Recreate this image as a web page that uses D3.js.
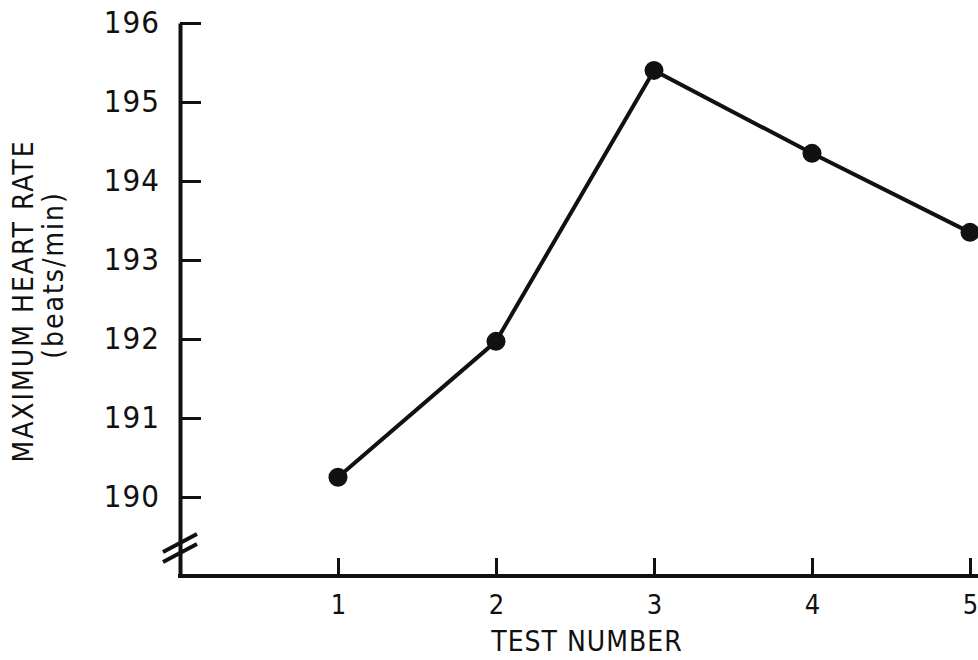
<!DOCTYPE html>
<html>
<head>
<meta charset="utf-8">
<script src="https://cdn.jsdelivr.net/npm/d3@7"></script>
<style>
  body { margin: 0; background: #fff; }
  svg { display: block; }
  text { font-family: "Liberation Sans Narrow", "DejaVu Sans Condensed", sans-serif; fill: #111; }
</style>
</head>
<body>
<svg width="978" height="660"></svg>
<script>
var testNumbers = [1, 2, 3, 4, 5];
var heartRates = [190.25, 191.97, 195.4, 194.35, 193.35];
var yTicks = [190, 191, 192, 193, 194, 195, 196];

var svg = d3.select('svg');
var width = 978;

var x = d3.scaleLinear().domain([0, 5]).range([180, 970]);
var y = d3.scaleLinear().domain([189, 196]).range([576, 23]);

// y axis, ticks pointing into the plot
var yAxis = d3.axisLeft(y)
  .tickValues(yTicks)
  .tickFormat(d3.format('d'))
  .tickSizeInner(-21)
  .tickSizeOuter(0)
  .tickPadding(20);

var gy = svg.append('g')
  .attr('transform', 'translate(' + x(0) + ',0)')
  .call(yAxis);
gy.select('.domain').attr('stroke', '#111').attr('stroke-width', 4);
gy.selectAll('.tick line').attr('stroke', '#111').attr('stroke-width', 3);
gy.selectAll('.tick text')
  .attr('font-size', 31)
  .attr('letter-spacing', 1)
  .style('font-family', null);

// x axis, ticks pointing up
var xAxis = d3.axisBottom(x)
  .tickValues(testNumbers)
  .tickFormat(d3.format('d'))
  .tickSizeInner(-18)
  .tickSizeOuter(0)
  .tickPadding(19);

var gx = svg.append('g')
  .attr('transform', 'translate(0,' + y(189) + ')')
  .call(xAxis);
gx.select('.domain').remove();
gx.append('line')
  .attr('x1', x(0) - 2)
  .attr('x2', width)
  .attr('stroke', '#111')
  .attr('stroke-width', 4);
gx.selectAll('.tick line').attr('stroke', '#111').attr('stroke-width', 3);
gx.selectAll('.tick text')
  .attr('font-size', 27)
  .style('font-family', null);

// axis break marks
[543, 553].forEach(function (cy) {
  svg.append('line')
    .attr('x1', x(0) - 17)
    .attr('y1', cy + 9)
    .attr('x2', x(0) + 17)
    .attr('y2', cy - 9)
    .attr('stroke', '#111')
    .attr('stroke-width', 4);
});

// data line and points
var points = testNumbers.map(function (t, i) { return [x(t), y(heartRates[i])]; });
var lineGenerator = d3.line();

svg.append('path')
  .attr('d', lineGenerator(points))
  .attr('fill', 'none')
  .attr('stroke', '#111')
  .attr('stroke-width', 4);

svg.selectAll('circle.pt')
  .data(points)
  .enter().append('circle')
  .attr('class', 'pt')
  .attr('cx', function (d) { return d[0]; })
  .attr('cy', function (d) { return d[1]; })
  .attr('r', 9.5)
  .attr('fill', '#111');

// titles
svg.append('text')
  .attr('transform', 'translate(33,301) rotate(-90)')
  .attr('text-anchor', 'middle')
  .attr('font-size', 28)
  .attr('letter-spacing', 2)
  .text('MAXIMUM HEART RATE');

svg.append('text')
  .attr('transform', 'translate(63,275) rotate(-90)')
  .attr('text-anchor', 'middle')
  .attr('font-size', 28)
  .attr('letter-spacing', 2)
  .text('(beats/min)');

svg.append('text')
  .attr('x', 587)
  .attr('y', 651)
  .attr('text-anchor', 'middle')
  .attr('font-size', 28)
  .attr('letter-spacing', 1)
  .text('TEST NUMBER');
</script>
</body>
</html>
